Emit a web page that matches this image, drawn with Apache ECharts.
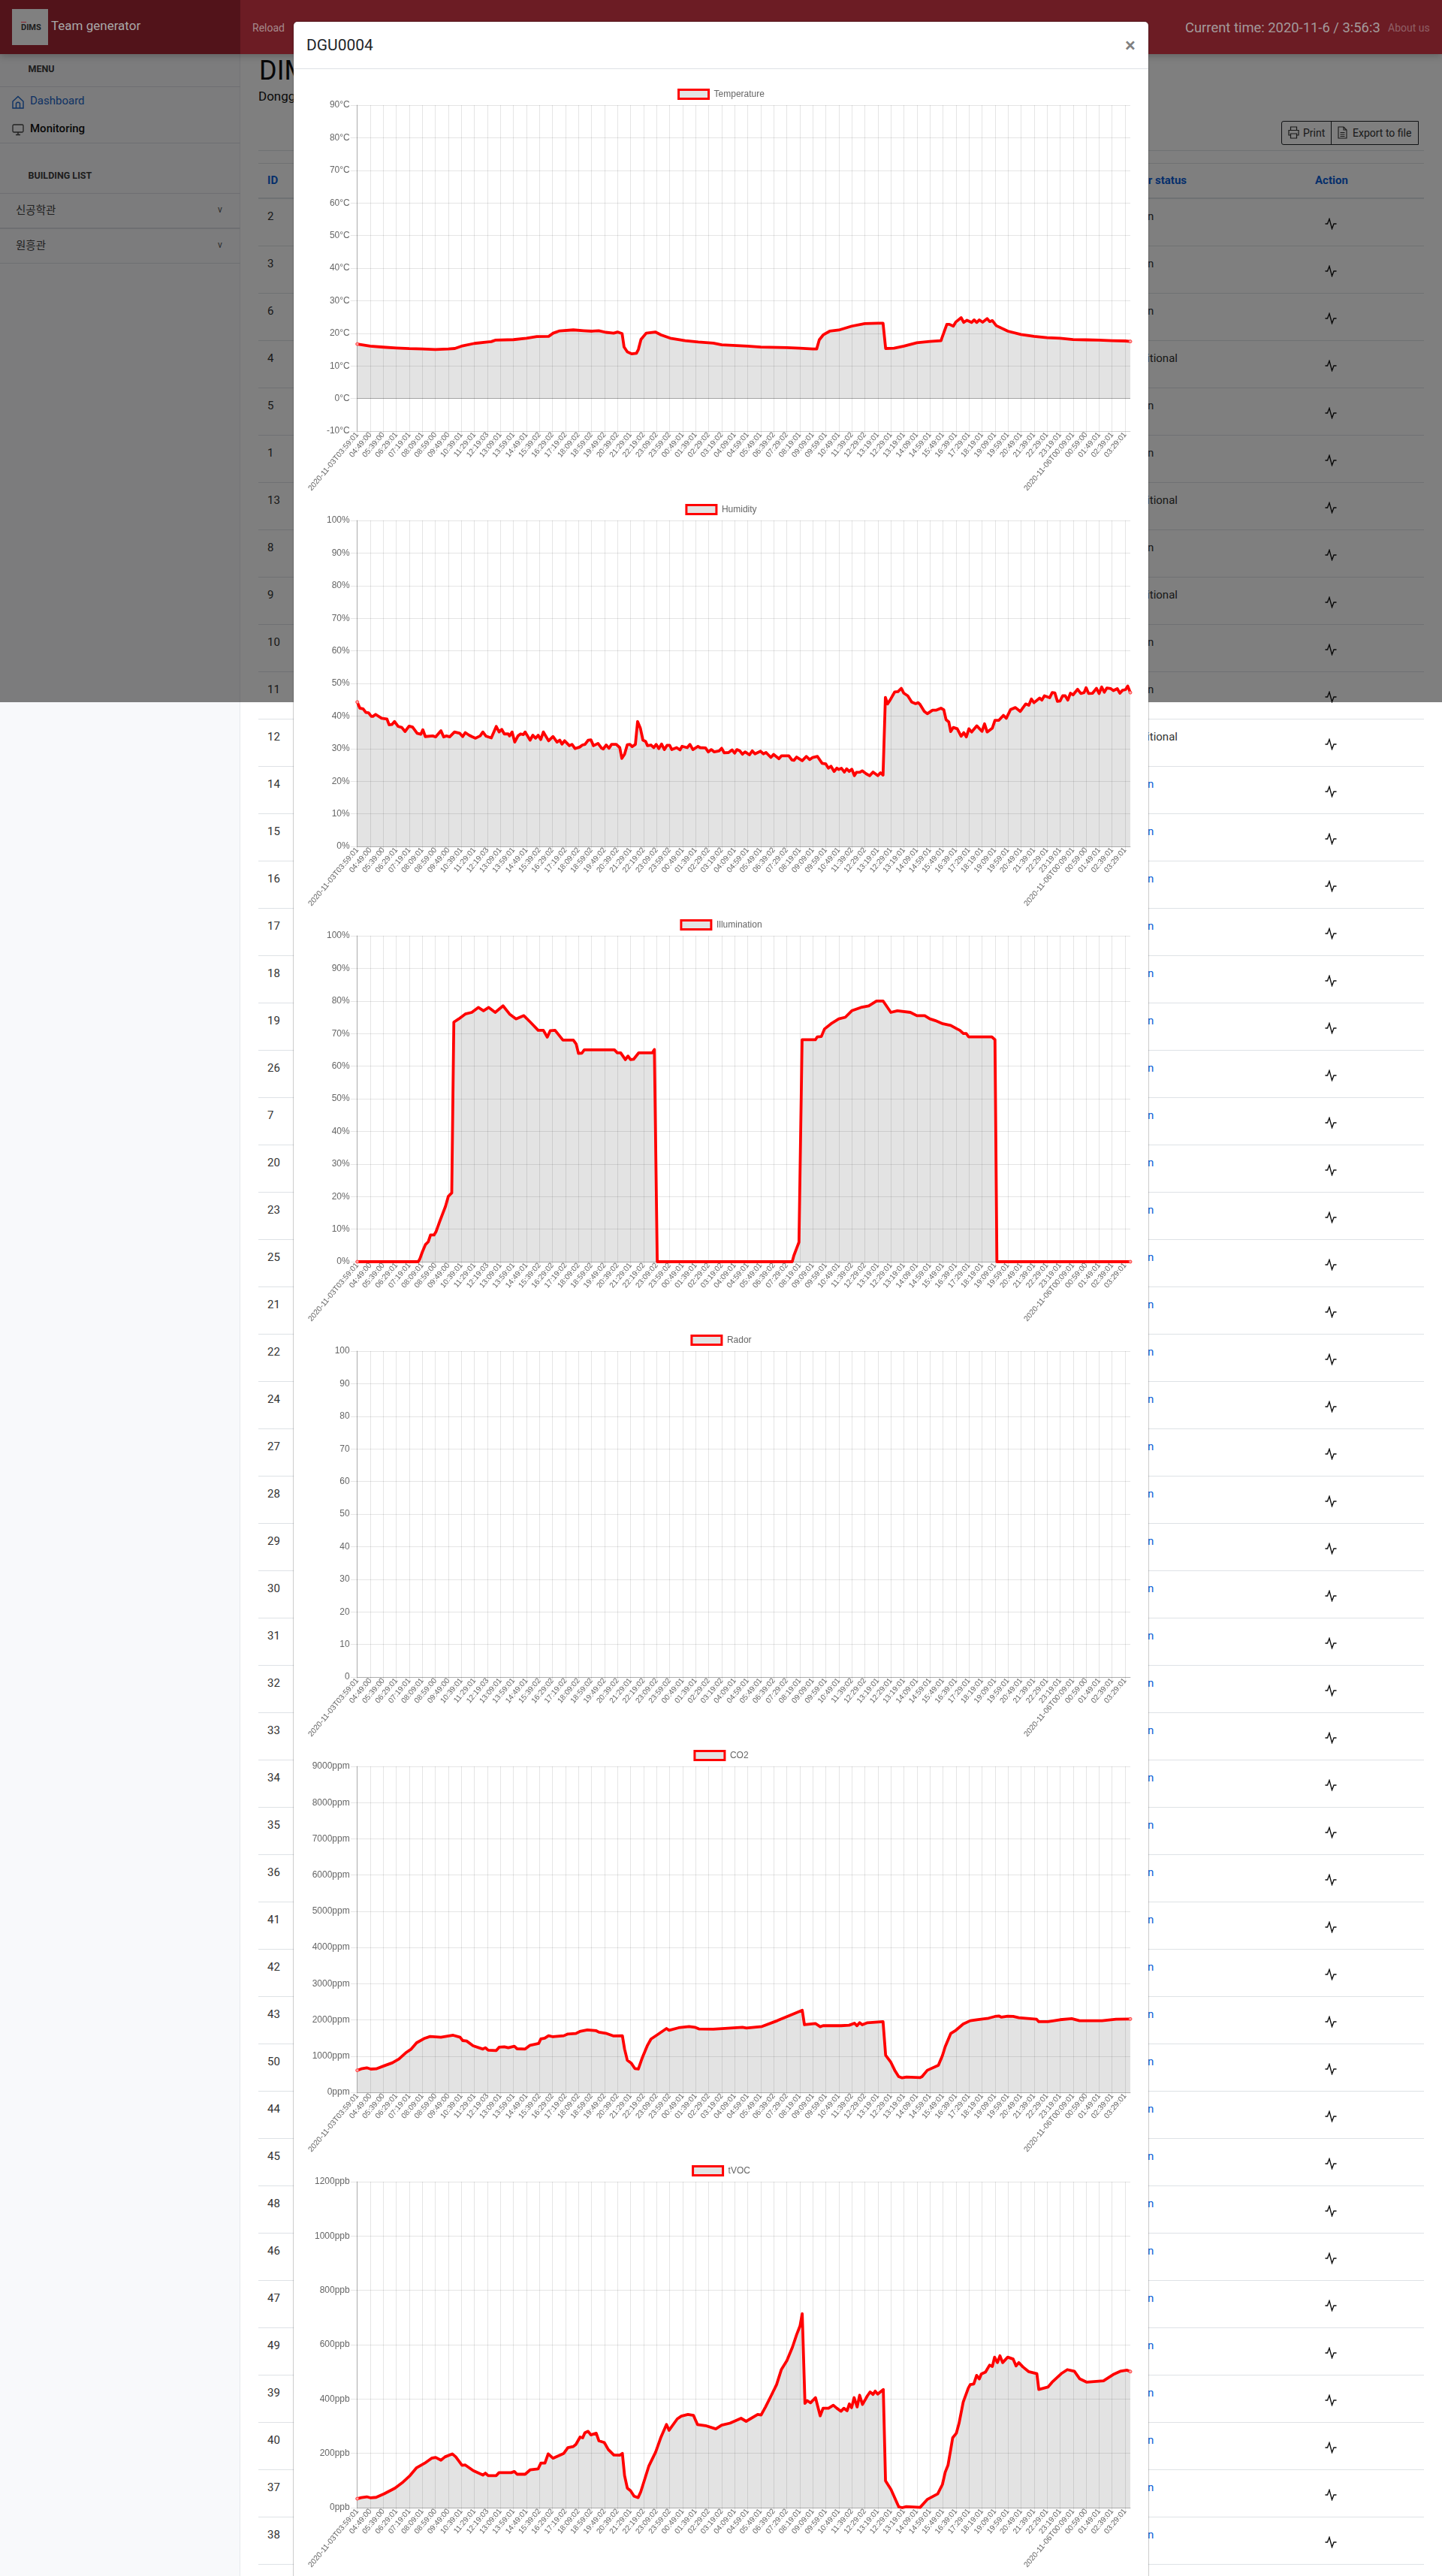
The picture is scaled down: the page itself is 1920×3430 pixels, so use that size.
<!DOCTYPE html>
<html lang="en">
<head>
<meta charset="utf-8">
<title>DGU0004</title>
<script src="https://cdn.jsdelivr.net/npm/echarts@6/dist/echarts.min.js"></script>
<style>
html,body{margin:0;padding:0;background:#fff;}
body{width:1920px;height:3430px;position:relative;overflow:hidden;font-family:Roboto,"Noto Sans CJK KR",sans-serif;color:#212529;}
.abs{position:absolute;white-space:nowrap;line-height:1;}
.hl{position:absolute;height:1px;background:#dee2e6;}
#side{position:absolute;left:0;top:0;width:320px;height:3430px;background:#f8f9fb;border-right:1px solid #e6e8ec;box-sizing:border-box;}
#overlay{position:absolute;left:0;top:0;width:1920px;height:935px;background:rgba(0,0,0,.5);}
#top{position:absolute;left:0;top:0;width:1920px;height:72px;background:#6c1c24;box-shadow:0 2px 10px rgba(0,0,0,.25);}
#brand{position:absolute;left:0;top:0;width:320px;height:72px;background:#52131a;}
#modal{position:absolute;left:391px;top:29px;width:1138px;height:3420px;background:#fff;border-radius:5px;box-shadow:0 0 0 1px rgba(0,0,0,.2);}
#chart{position:absolute;left:0;top:0;width:1920px;height:3430px;}
</style>
</head>
<body>
<div id="side"></div>
<div id="page"></div>
<div id="overlay"></div>
<div id="top">
  <div id="brand"></div>
  <div class="abs" style="left:16px;top:12px;width:48px;height:48px;background:#808080;"></div>
  <div class="abs" style="left:28px;top:29px;width:7px;height:1px;background:#8c2430;"></div>
  <div class="abs" style="left:28px;top:31px;font-size:11px;font-weight:700;color:#1d1d1d;">DIMS</div>
  <div class="abs" style="left:68px;top:26px;font-size:17px;color:#a8a8a8;">Team generator</div>
  <div class="abs" style="left:336px;top:30px;font-size:14px;color:#a58a8c;">Reload</div>
  <div class="abs" style="left:1578px;top:28px;font-size:18.4px;color:#a39a9b;">Current time: 2020-11-6 / 3:56:3</div>
  <div class="abs" style="left:1848px;top:30px;font-size:14px;color:#8f6067;">About us</div>
</div>
<div id="modal">
  <div class="abs" style="left:17px;top:21px;font-size:21px;color:#212529;">DGU0004</div>
  <div class="abs" style="left:1107px;top:18px;font-size:26px;font-weight:500;color:#808080;">×</div>
  <div class="hl" style="left:0;top:62px;width:1138px;"></div>
</div>
<div id="chart"></div>
<script>
// ---------- page text ----------
const rowIds = [2,3,6,4,5,1,13,8,9,10,11,12,14,15,16,17,18,19,26,7,20,23,25,21,22,24,27,28,29,30,31,32,33,34,35,36,41,42,43,50,44,45,48,46,47,49,39,40,37,38];
const conditionalIds = [4,13,9,12];
const menuItems = ["신공학관","원흥관"];

// ---------- chart data ----------
const tickLabels = ["2020-11-03T03:59:01","04:49:00","05:39:00","06:29:01","07:19:01","08:09:01","08:59:00","09:49:00","10:39:01","11:29:01","12:19:03","13:09:01","13:59:01","14:49:01","15:39:02","16:29:02","17:19:02","18:09:02","18:59:02","19:49:02","20:39:02","21:29:01","22:19:02","23:09:02","23:59:02","00:49:01","01:39:01","02:29:02","03:19:02","04:09:01","04:59:01","05:49:01","06:39:02","07:29:02","08:19:01","09:09:01","09:59:01","10:49:01","11:39:02","12:29:02","13:19:01","12:29:01","13:19:01","14:09:01","14:59:01","15:49:01","16:39:01","17:29:01","18:19:01","19:09:01","19:59:01","20:49:01","21:39:01","22:29:01","23:19:01","2020-11-06T00:09:01","00:59:00","01:49:01","02:39:01","03:29:01"];
const lastTick = 59.4;

// each pair: [position in label steps, reading]
const temperature = [[0,16.7],[1,16.05],[2,15.75],[3,15.5],[4,15.3],[5,15.2],[6,15.05],[7,15.2],[7.5,15.35],[8,16.05],[9,16.9],[10,17.35],[10.3,17.45],[10.6,17.9],[12,18.05],[13,18.5],[13.8,19],[14.7,19.05],[15.05,20.05],[15.55,20.75],[16.6,21.05],[17.4,20.8],[18.05,20.65],[18.55,20.8],[19.1,20.3],[19.7,20.05],[20,20.4],[20.35,19.9],[20.5,15.8],[20.75,14.3],[21.1,13.7],[21.45,13.9],[21.6,15.05],[21.8,18.1],[22.2,20.05],[22.9,20.4],[23.35,19.5],[24.05,18.5],[25.2,17.75],[26.2,17.35],[27.36,17],[28,16.45],[30,16.05],[31,15.8],[33,15.6],[34,15.45],[35,15.2],[35.3,15.2],[35.5,18],[35.8,19.5],[36.3,20.65],[37,21],[38,22.2],[39,23],[40,23.1],[40.4,23.1],[40.6,15.35],[41.25,15.45],[42,16.05],[43,17.1],[44,17.5],[44.85,17.75],[45.3,22.75],[45.5,22.75],[45.8,22.2],[46,23.5],[46.4,24.8],[46.6,23.35],[46.85,24],[47.2,23.35],[47.4,24.1],[47.6,23.35],[47.8,24.1],[48.05,23.4],[48.4,24.5],[48.6,23.6],[48.8,23.9],[49.1,22.35],[50,20.65],[51,19.65],[52,19.05],[53,18.65],[54,18.5],[55,18.1],[56,18],[57,17.9],[58,17.75],[59,17.65],[59.4,17.5]];

const humidity = [[0,44.3],[0.2,42.4],[0.45,42.2],[0.66,41.1],[0.87,41],[1.08,39.9],[1.2,39.9],[1.41,40.5],[1.87,39.3],[2.28,39.1],[2.45,37.3],[2.66,37.4],[2.86,38.3],[3.15,36.8],[3.42,36.5],[3.67,35.25],[3.98,36.9],[4.25,36.6],[4.6,34.7],[4.88,34.4],[5.04,35.8],[5.23,33.7],[5.8,33.9],[6.02,33.6],[6.43,35.5],[6.64,33.6],[6.85,33.9],[7.1,33.6],[7.47,35.1],[7.88,34.7],[8.1,33.7],[8.3,34.9],[8.6,34.1],[8.8,33.7],[8.87,34.1],[9.09,33.2],[9.44,33.9],[9.65,35.1],[9.9,33.8],[10.3,33.3],[10.68,36.8],[10.9,35.1],[11.1,35.9],[11.3,34.5],[11.6,34.5],[11.7,33.9],[11.9,35.1],[12.1,32],[12.35,33.9],[12.55,34.5],[12.76,34.3],[12.9,35.1],[13.28,32.6],[13.49,34.1],[13.7,33.2],[13.9,34.1],[14.1,32.8],[14.3,35.1],[14.7,32.4],[15.04,33.7],[15.35,32],[15.56,32.6],[15.73,31.4],[15.93,32.4],[16.3,30.9],[16.5,31.3],[16.74,30],[17.1,30.5],[17.3,31.1],[17.5,31.3],[17.74,32.6],[17.95,32.7],[18.15,30.9],[18.5,31.6],[18.78,30.1],[18.9,29.9],[19.13,31.1],[19.34,30.1],[19.54,31.3],[19.9,31.3],[20.17,30.3],[20.33,27],[20.54,28.3],[20.75,31.2],[20.95,31.3],[21.12,30.6],[21.37,31.3],[21.54,38.3],[21.75,36.3],[21.95,32.6],[22.16,32.2],[22.3,30.9],[22.57,31.1],[22.78,30.3],[22.97,31.3],[23.17,30],[23.38,31.4],[23.6,29.7],[23.8,31],[24,31],[24.17,29.7],[24.54,30.3],[24.8,29.6],[24.96,30.7],[25.35,30.3],[25.56,31.3],[25.79,29.7],[26.18,30.7],[26.35,30.3],[26.76,30.2],[26.97,29],[27.2,29.7],[27.43,29],[27.8,29.3],[28,30.1],[28.2,28.7],[28.53,28.8],[28.8,29.6],[29,28.6],[29.17,29.7],[29.39,29.3],[29.6,28.3],[29.8,29],[30.13,28.1],[30.35,29.3],[30.56,28.4],[30.99,29.2],[31.2,28.4],[31.41,28.8],[31.78,27.3],[31.99,28.2],[32.4,26.9],[32.6,27.8],[33.16,27.8],[33.4,26.5],[33.55,26.4],[33.76,27.4],[34.19,26.3],[34.5,27.6],[34.76,26.65],[35,27.3],[35.36,27.6],[35.72,25.5],[36,25.3],[36.2,24],[36.4,24.6],[36.64,23],[36.85,24],[37,23.6],[37.2,24],[37.43,22.8],[37.6,23.8],[37.8,23],[38,23.7],[38.2,21.7],[38.35,22.7],[38.63,22.8],[38.8,23.2],[39.1,22.3],[39.37,21.7],[39.63,22.8],[40,21.7],[40.2,22.6],[40.4,21.9],[40.58,45.7],[40.75,43.7],[41,45.3],[41.3,47.4],[41.55,47.5],[41.8,48.5],[42,47],[42.3,46.2],[42.6,44.3],[42.9,43.8],[43.1,44.1],[43.25,43.5],[43.57,41.4],[43.8,40.7],[44.2,41.8],[44.5,41.8],[44.85,42.4],[45.07,41.9],[45.24,38.9],[45.45,38.2],[45.6,35.25],[45.8,36.5],[46.1,36.1],[46.4,33.8],[46.6,34.9],[46.8,33.6],[47,36.1],[47.2,35.1],[47.6,37],[48,35.3],[48.2,37.6],[48.4,35.1],[48.8,36.3],[49,38.7],[49.3,38.7],[49.65,40.2],[49.87,39.3],[50.2,42],[50.57,42.6],[50.94,41.4],[51.36,43.7],[51.6,43.3],[51.8,45.2],[52,44.1],[52.43,45.5],[52.6,44.9],[52.8,46.2],[53.2,45.6],[53.4,47.2],[53.6,47.1],[53.8,44.5],[54,44.6],[54.2,46.2],[54.4,46.2],[54.6,44.9],[54.8,47],[55,46.5],[55.35,48.2],[55.6,46.9],[55.85,47.2],[56,48.7],[56.2,46.9],[56.5,47],[56.8,48.5],[57,46.9],[57.2,48.9],[57.4,47.3],[57.6,48.6],[57.9,48.4],[58.1,47.8],[58.4,48.4],[58.6,47],[58.8,47.9],[59.03,48.1],[59.2,49.2],[59.4,47.2]];

const illumination = [[0,0],[4.68,0],[4.8,0.8],[5,3],[5.23,5.2],[5.45,6.1],[5.63,8.2],[5.9,8.2],[6.05,9.2],[6.33,12.3],[6.55,14.6],[6.78,17],[7,20.1],[7.26,21.1],[7.33,21.1],[7.42,73.5],[7.8,74.5],[8.3,76],[8.8,76.5],[9.3,78],[9.7,77],[10.1,78],[10.6,76.5],[11.2,78.5],[11.7,76],[12.2,74.5],[12.8,75.5],[13.3,73.5],[13.9,71],[14.3,71],[14.4,71],[14.6,68.9],[14.83,70.9],[15.2,71],[15.5,69.5],[15.8,68],[16.6,68],[16.82,66.8],[17,63.9],[17.26,64],[17.44,65],[19.76,65],[19.98,64.1],[20.24,64.1],[20.6,62],[20.8,63.1],[21,62],[21.23,62.1],[21.63,64.1],[22.67,64.1],[22.83,65.1],[23.05,0],[33.42,0],[33.55,1.9],[33.75,4],[33.94,6],[34.18,68.1],[35.2,68.1],[35.35,69],[35.66,69.1],[35.9,71.4],[36.4,73],[37,74.5],[37.5,75],[38,77],[38.7,78],[39.3,78.5],[39.9,80],[40.4,80],[41,76.5],[41.5,77],[42.5,76.5],[43,75.5],[43.6,75.5],[44,74.5],[44.4,74],[45,73],[45.6,72.5],[46.1,71.4],[46.3,71],[46.57,70],[46.8,70],[46.97,69],[48.76,69],[49,68.1],[49.15,0],[59.4,0]];

const radar = [];

const co2 = [[0,608],[0.31,650],[0.73,678],[1.04,643],[1.45,650],[2.07,733],[2.7,816],[3.2,920],[3.73,1093],[4.15,1196],[4.56,1369],[5.19,1494],[5.6,1542],[6.43,1521],[7.37,1577],[7.9,1521],[8.1,1431],[8.4,1418],[8.9,1286],[9.65,1196],[9.85,1231],[10.06,1162],[10.68,1155],[10.9,1245],[11.3,1259],[11.6,1231],[12.07,1272],[12.28,1203],[12.9,1196],[13.28,1300],[13.94,1349],[14.1,1473],[14.4,1494],[14.7,1563],[15.04,1535],[15.87,1563],[16.18,1611],[16.8,1625],[17.1,1680],[17.68,1722],[18.36,1701],[18.57,1660],[19.09,1632],[19.7,1556],[20.37,1563],[20.54,1196],[20.75,885],[21.06,802],[21.33,657],[21.6,643],[21.9,954],[22.3,1300],[22.57,1473],[23,1577],[23.76,1763],[23.96,1715],[24.7,1784],[25.5,1819],[25.93,1798],[26.25,1750],[27.36,1743],[29.6,1798],[29.9,1777],[31.1,1819],[32.27,1978],[32.9,2075],[34.19,2268],[34.36,1867],[35.2,1902],[35.57,1812],[35.79,1840],[37.17,1840],[37.8,1853],[38.2,1909],[38.4,1840],[38.6,1922],[38.8,1867],[39.2,1922],[40.4,1950],[40.6,1023],[41,830],[41.3,609],[41.6,436],[41.87,401],[42.2,422],[43.25,408],[43.4,436],[43.8,609],[44.65,747],[44.96,1010],[45.18,1266],[45.6,1625],[46,1715],[46.56,1888],[47.1,1978],[47.6,2006],[48.5,2047],[49,2095],[49.3,2109],[49.5,2075],[49.97,2102],[50.4,2095],[50.83,2061],[52.2,2019],[52.37,1950],[53.07,1950],[54,2006],[54.9,2033],[55.5,1978],[57.23,1978],[58.3,2019],[59.4,2026]];

const tvoc = [[0,33],[0.31,37],[0.73,40],[1.04,36],[1.45,38],[2.07,51],[2.9,72],[3.53,95],[4.05,118],[4.56,147],[5.19,164],[5.71,182],[6.02,185],[6.43,175],[6.74,187],[7.3,198],[7.57,187],[8.05,156],[8.3,157],[8.92,136],[9.65,120],[9.85,127],[10.06,118],[10.68,118],[10.89,129],[11.83,129],[12.07,133],[12.28,123],[12.9,123],[13.28,139],[13.9,143],[14.11,164],[14.42,164],[14.67,198],[15.04,182],[15.87,200],[16.18,221],[16.6,225],[16.8,233],[17.12,260],[17.32,257],[17.49,276],[17.74,281],[17.95,268],[18.36,274],[18.57,246],[18.98,240],[19.29,214],[19.71,194],[20.17,193],[20.37,200],[20.54,118],[20.75,72],[21,62],[21.27,42],[21.58,37],[21.78,58],[21.99,90],[22.41,154],[22.93,205],[23.34,260],[23.76,306],[23.96,285],[24.59,327],[24.9,337],[25.41,343],[25.83,340],[26.14,306],[26.76,302],[27.55,290],[28,304],[28.64,311],[29.49,329],[29.6,334],[29.88,318],[30.77,343],[31.03,341],[31.37,371],[31.8,412],[32.22,453],[32.59,509],[33.01,541],[33.44,591],[33.76,637],[34.02,669],[34.19,714],[34.4,384],[34.57,394],[34.83,386],[35.21,405],[35.57,338],[35.79,366],[36.21,366],[36.58,377],[36.85,366],[37.17,355],[37.39,366],[37.64,357],[37.81,382],[37.98,368],[38.18,405],[38.41,371],[38.6,414],[38.82,380],[39.2,412],[39.41,426],[39.63,417],[39.8,429],[39.99,418],[40.42,435],[40.59,99],[41.01,67],[41.61,3],[41.87,0],[42.19,4],[43.25,1],[43.79,30],[44.6,51],[44.96,85],[45.18,131],[45.39,156],[45.6,214],[45.75,257],[46.03,274],[46.24,311],[46.56,389],[46.95,440],[47.1,453],[47.37,455],[47.59,487],[47.8,474],[47.95,492],[48.27,499],[48.59,525],[48.8,520],[48.97,554],[49.19,534],[49.38,559],[49.59,534],[49.98,554],[50.4,547],[50.62,522],[50.83,534],[51.15,518],[51.58,501],[52.22,493],[52.37,435],[53.07,444],[53.39,462],[54.14,495],[54.56,508],[55.1,502],[55.52,474],[56.06,462],[57.34,467],[58.08,490],[58.62,502],[59.15,506],[59.4,501]];

const charts = [
  {name:"Temperature", unit:"°C",  min:-10, max:90,   step:10,   data:temperature},
  {name:"Humidity",    unit:"%",   min:0,   max:100,  step:10,   data:humidity},
  {name:"Illumination",unit:"%",   min:0,   max:100,  step:10,   data:illumination},
  {name:"Rador",       unit:"",    min:0,   max:100,  step:10,   data:radar},
  {name:"CO2",         unit:"ppm", min:0,   max:9000, step:1000, data:co2},
  {name:"tVOC",        unit:"ppb", min:0,   max:1200, step:200,  data:tvoc}
];

// ---------- page chrome ----------
(function(){
  const t = (x,y,txt,css)=>`<div class="abs" style="left:${x}px;top:${y}px;${css||''}">${txt}</div>`;
  const activity = (cx,cy)=>`<svg style="position:absolute;left:${cx-8}px;top:${cy-8}px" width="16" height="16" viewBox="0 0 16 16"><polyline points="0.5,8 3.5,8 6,1.5 9.5,14.5 12,8 15.5,8" fill="none" stroke="#111" stroke-width="1.4"/></svg>`;
  let h = '';
  // sidebar
  h += t(37.5,85.5,'MENU','font-size:12.5px;font-weight:700;color:#3c3c3c;');
  h += `<div class="hl" style="left:0;top:115px;width:320px;background:#dcdfe4"></div>`;
  h += `<svg style="position:absolute;left:16px;top:127px" width="16" height="18" viewBox="0 0 16 18"><path d="M1 8 L8 1.5 L15 8 V17 H1 Z M5.5 17 V10.5 Q8 8 10.5 10.5 V17" fill="none" stroke="#1a64c8" stroke-width="1.4"/></svg>`;
  h += t(40,127,'Dashboard','font-size:15px;color:#1a64c8;');
  h += `<svg style="position:absolute;left:16px;top:165px" width="16" height="16" viewBox="0 0 16 16"><rect x="1" y="1" width="14" height="10" rx="1.5" fill="none" stroke="#444" stroke-width="1.3"/><path d="M5 14.5 H11 M8 11 V14" stroke="#444" stroke-width="1.5"/></svg>`;
  h += t(40,164,'Monitoring','font-size:15px;font-weight:500;color:#111;');
  h += `<div class="hl" style="left:0;top:190px;width:320px;background:#dcdfe4"></div>`;
  h += t(37.5,227.5,'BUILDING LIST','font-size:12.5px;font-weight:700;color:#3c3c3c;');
  h += `<div class="hl" style="left:0;top:257px;width:320px;background:#dcdfe4"></div>`;
  menuItems.forEach((m,i)=>{
    const y = 272+i*47;
    h += t(21,y,m,'font-size:14.5px;color:#444;font-family:\'Noto Sans CJK KR\',sans-serif;');
    h += t(290,y+1,'v','font-size:12px;color:#555;');
    h += `<div class="hl" style="left:0;top:${303+i*47}px;width:320px;height:${i?1:2}px;background:#dcdfe4"></div>`;
  });
  // page head
  h += t(345,76,'DIMS','font-size:36px;color:#111;');
  h += t(344,120,'Dongguk University','font-size:17px;color:#111;');
  h += `<div class="hl" style="left:344px;top:200px;width:1552px"></div>`;
  h += `<div class="hl" style="left:344px;top:217px;width:1552px"></div>`;
  h += `<div class="hl" style="left:344px;top:263px;width:1552px;height:2px"></div>`;
  h += t(356,233,'ID','font-size:15px;font-weight:700;color:#0b5ed7;');
  h += `<div class="abs" style="left:1380px;width:200px;top:233px;text-align:right;font-size:15px;font-weight:700;color:#0b5ed7;">Sensor status</div>`;
  h += t(1751,233,'Action','font-size:15px;font-weight:700;color:#0b5ed7;');
  // buttons
  h += `<div class="abs" style="left:1706px;top:161px;width:181px;height:30px;border:1px solid #212529;border-radius:3px 0 0 3px;box-sizing:content-box"></div>`;
  h += `<div class="abs" style="left:1772px;top:161px;width:1px;height:31px;background:#212529"></div>`;
  h += `<svg style="position:absolute;left:1715px;top:168px" width="15" height="17" viewBox="0 0 15 17"><path d="M3.5 5 V1 H11.5 V5 M3.5 12 H1 V5.5 H14 V12 H11.5 M3.5 10 H11.5 V16 H3.5 Z" fill="none" stroke="#333" stroke-width="1.2"/></svg>`;
  h += t(1735,170,'Print','font-size:14px;color:#333;');
  h += `<svg style="position:absolute;left:1781px;top:168px" width="13" height="17" viewBox="0 0 13 17"><path d="M1 1 H8 L12 5 V16 H1 Z M8 1 V5 H12 M3.5 8.5 H9.5 M3.5 11 H9.5 M3.5 13.5 H9.5" fill="none" stroke="#333" stroke-width="1.1"/></svg>`;
  h += t(1801,170,'Export to file','font-size:14px;color:#333;');
  // rows
  rowIds.forEach((id,i)=>{
    const cy = 288+63*i;
    h += t(356,cy-7.5,id,'font-size:15px;color:#333;');
    const cond = conditionalIds.includes(id);
    const lbl = cond?'Conditional':'On';
    const col = i>=12?'#0b5ed7':'#333';
    h += `<div class="abs" style="left:${cond?1430:1427}px;width:200px;top:${cy-7.5}px;text-align:center;font-size:15px;color:${cond?'#333':col};">${lbl}</div>`;
    h += activity(1772,cy+10);
    h += `<div class="hl" style="left:344px;top:${264+63*(i+1)}px;width:1552px"></div>`;
  });
  document.getElementById('page').innerHTML = h;
})();

// ---------- chart ----------
const plotLeft = 475.7, plotWidth = 1029.3, plotHeight = 434, firstTop = 140, chartPitch = 553;
const axisFont = '"Liberation Sans",Arial,sans-serif';
const option = {animation:false, backgroundColor:'transparent', grid:[], xAxis:[], yAxis:[], legend:[], series:[]};
charts.forEach((c,i)=>{
  const top = firstTop + i*chartPitch;
  option.grid.push({left:plotLeft, top:top, width:plotWidth, height:plotHeight, containLabel:false});
  option.xAxis.push({
    type:'value', gridIndex:i, min:0, max:lastTick, interval:1,
    axisLine:{show:true, onZero:false, lineStyle:{color:c.min<0?'rgba(0,0,0,0.1)':'rgba(0,0,0,0.25)',width:1}},
    axisTick:{show:true, length:9, lineStyle:{color:'rgba(0,0,0,0.1)'}},
    splitLine:{show:true, showMaxLine:false, lineStyle:{color:'rgba(0,0,0,0.1)',width:1}},
    axisLabel:{rotate:50, fontSize:10.3, color:'#666', fontFamily:axisFont, margin:3, showMaxLabel:false, hideOverlap:false,
      formatter:v=>Number.isInteger(v)&&tickLabels[v]?tickLabels[v]:''}
  });
  option.yAxis.push({
    type:'value', gridIndex:i, min:c.min, max:c.max, interval:c.step,
    axisLine:{show:true, onZero:false, lineStyle:{color:'rgba(0,0,0,0.25)',width:1}},
    axisTick:{show:true, length:9, lineStyle:{color:'rgba(0,0,0,0.1)'}},
    splitLine:{show:true, lineStyle:{color:'rgba(0,0,0,0.1)',width:1}},
    axisLabel:{fontSize:12, color:'#666', fontFamily:axisFont, margin:10, padding:[0,0,4,0], formatter:v=>v+c.unit}
  });
  option.legend.push({
    show:true, left:'center', top:top-22, padding:0, orient:'horizontal', selectedMode:false,
    itemWidth:40, itemHeight:12, itemGap:10,
    textStyle:{color:'#666', fontSize:12, fontFamily:axisFont, padding:[0,0,0,2]},
    data:[{name:c.name, icon:'rect', itemStyle:{color:'rgba(0,0,0,0.11)',borderColor:'#f00',borderWidth:3,opacity:1}}]
  });
  const last = c.data.length-1;
  const s = {
    name:c.name, type:'line', xAxisIndex:i, yAxisIndex:i, data:c.data, smooth:false, clip:false,
    showAllSymbol:true,
    symbol:(v,p)=>(p.dataIndex===0||p.dataIndex===last)?'circle':'none',
    symbolSize:4,
    itemStyle:{color:'rgba(255,180,180,0.9)',borderColor:'#f44',borderWidth:1},
    lineStyle:{color:'#f00',width:3.8,join:'round',cap:'round'},
    areaStyle:{color:'rgba(0,0,0,0.11)',opacity:1},
    emphasis:{disabled:true}, silent:true, z:3
  };
  if(c.min<0){
    s.markLine={silent:true,symbol:'none',label:{show:false},lineStyle:{color:'rgba(0,0,0,0.25)',type:'solid',width:1},data:[{yAxis:0}]};
  }
  option.series.push(s);
});
const chart = echarts.init(document.getElementById('chart'),null,{renderer:'canvas',width:1920,height:3430});
chart.setOption(option);
</script>
</body>
</html>
